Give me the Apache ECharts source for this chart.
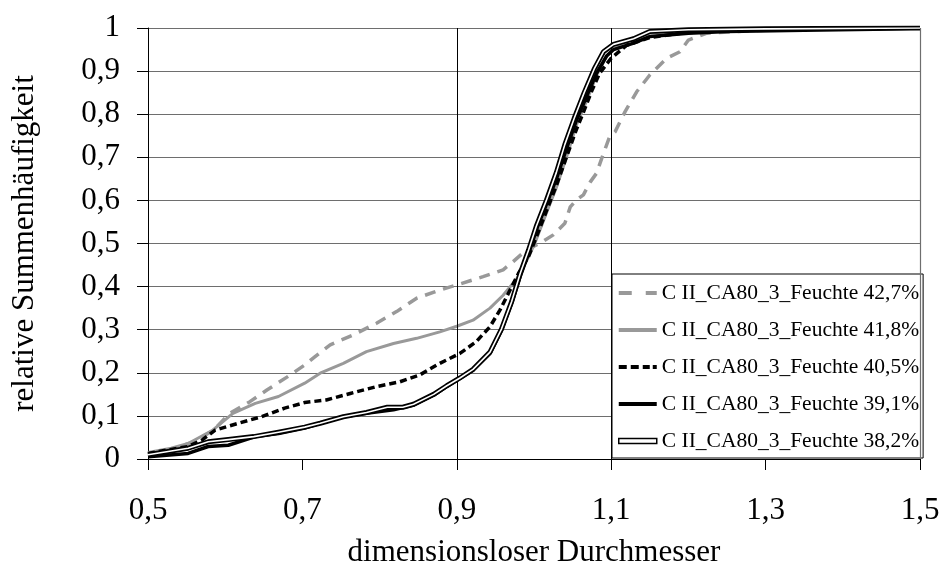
<!DOCTYPE html>
<html>
<head>
<meta charset="utf-8">
<script src="https://cdn.jsdelivr.net/npm/echarts@6/dist/echarts.min.js"></script>
<style>html,body{margin:0;padding:0;background:#fff;}#c{width:943px;height:581px;}</style>
</head>
<body>
<div id="c"></div>
<script>
const FONT = '"Liberation Serif", "Times New Roman", serif';
const xTicks = [0.5, 0.7, 0.9, 1.1, 1.3, 1.5];
const xVLines = [0.9, 1.1];
const names = [
  'C II_CA80_3_Feuchte 42,7%',
  'C II_CA80_3_Feuchte 41,8%',
  'C II_CA80_3_Feuchte 40,5%',
  'C II_CA80_3_Feuchte 39,1%',
  'C II_CA80_3_Feuchte 38,2%'
];

const x42_7 = [0.5, 0.53, 0.559, 0.585, 0.606, 0.632, 0.654, 0.68, 0.703, 0.716, 0.736, 0.766, 0.796, 0.822, 0.848, 0.878, 0.904, 0.934, 0.96, 0.973, 0.99, 1.011, 1.025, 1.04, 1.047, 1.055, 1.064, 1.073, 1.081, 1.09, 1.098, 1.105, 1.118, 1.133, 1.15, 1.172, 1.189, 1.2, 1.224, 1.3, 1.4, 1.5];
const y42_7 = [0.01, 0.022, 0.04, 0.067, 0.106, 0.133, 0.16, 0.19, 0.218, 0.237, 0.265, 0.288, 0.315, 0.342, 0.373, 0.392, 0.406, 0.423, 0.439, 0.458, 0.485, 0.504, 0.52, 0.547, 0.585, 0.601, 0.613, 0.643, 0.663, 0.709, 0.748, 0.759, 0.806, 0.852, 0.891, 0.93, 0.945, 0.972, 0.988, 0.995, 0.998, 1.0];

const x41_8 = [0.5, 0.53, 0.552, 0.583, 0.61, 0.639, 0.669, 0.703, 0.723, 0.753, 0.783, 0.818, 0.848, 0.878, 0.9, 0.921, 0.943, 0.96, 0.978, 0.991, 1.001, 1.016, 1.029, 1.042, 1.055, 1.068, 1.081, 1.094, 1.11, 1.13, 1.16, 1.2, 1.3, 1.4, 1.5];
const y41_8 = [0.015, 0.025, 0.036, 0.066, 0.106, 0.129, 0.145, 0.176, 0.199, 0.222, 0.249, 0.268, 0.28, 0.295, 0.308, 0.322, 0.35, 0.38, 0.419, 0.462, 0.5, 0.57, 0.63, 0.7, 0.775, 0.83, 0.89, 0.935, 0.96, 0.975, 0.985, 0.992, 0.997, 0.999, 1.0];

const x40_5 = [0.5, 0.552, 0.57, 0.587, 0.617, 0.647, 0.677, 0.703, 0.731, 0.762, 0.796, 0.826, 0.852, 0.878, 0.904, 0.925, 0.943, 0.956, 0.969, 0.98, 0.993, 1.003, 1.016, 1.029, 1.042, 1.055, 1.063, 1.075, 1.085, 1.1, 1.12, 1.15, 1.2, 1.3, 1.4, 1.5];
const y40_5 = [0.013, 0.029, 0.044, 0.067, 0.083, 0.098, 0.118, 0.131, 0.137, 0.152, 0.168, 0.179, 0.195, 0.222, 0.245, 0.272, 0.307, 0.346, 0.392, 0.431, 0.47, 0.515, 0.575, 0.635, 0.7, 0.765, 0.8, 0.855, 0.895, 0.93, 0.96, 0.978, 0.99, 0.997, 0.999, 1.0];

const x39_1 = [0.5, 0.552, 0.578, 0.604, 0.639, 0.669, 0.703, 0.723, 0.753, 0.783, 0.818, 0.844, 0.87, 0.887, 0.904, 0.921, 0.943, 0.958, 0.971, 0.982, 0.993, 1.003, 1.016, 1.029, 1.042, 1.055, 1.068, 1.081, 1.094, 1.103, 1.129, 1.15, 1.2, 1.25, 1.35, 1.44, 1.5];
const y39_1 = [0.005, 0.013, 0.029, 0.032, 0.052, 0.059, 0.072, 0.083, 0.098, 0.106, 0.114, 0.125, 0.148, 0.168, 0.187, 0.206, 0.245, 0.299, 0.361, 0.423, 0.477, 0.531, 0.59, 0.65, 0.72, 0.786, 0.841, 0.895, 0.935, 0.95, 0.965, 0.98, 0.988, 0.992, 0.995, 0.997, 1.0];

const x38_2 = [0.5, 0.552, 0.578, 0.604, 0.637, 0.669, 0.703, 0.723, 0.753, 0.783, 0.81, 0.83, 0.844, 0.87, 0.887, 0.904, 0.921, 0.943, 0.958, 0.971, 0.982, 0.993, 1.003, 1.016, 1.029, 1.04, 1.052, 1.065, 1.078, 1.09, 1.103, 1.129, 1.15, 1.2, 1.3, 1.5];
const y38_2 = [0.01, 0.025, 0.04, 0.045, 0.052, 0.062, 0.074, 0.083, 0.098, 0.108, 0.12, 0.12, 0.127, 0.15, 0.17, 0.188, 0.208, 0.248, 0.302, 0.365, 0.43, 0.485, 0.54, 0.6, 0.665, 0.73, 0.79, 0.85, 0.905, 0.945, 0.962, 0.975, 0.992, 0.996, 0.998, 1.0];

function pairs(xs, ys) { return xs.map((x, i) => [x, ys[i]]); }
function comma(v) {
  if (Math.abs(v) < 1e-9) return '0';
  if (Math.abs(v - 1) < 1e-9) return '1';
  return (Math.round(v * 10) / 10).toFixed(1).replace('.', ',');
}

const chart = echarts.init(document.getElementById('c'), null, {renderer: 'canvas'});
const line = (name, xs, ys, color, width, type, z) => ({
  name, type: 'line', data: pairs(xs, ys), symbol: 'none', showSymbol: false,
  lineStyle: {color, width, type, cap: 'butt', join: 'round'}, itemStyle: {color},
  z, silent: true, animation: false
});

const option = {
  animation: false,
  backgroundColor: '#fff',
  grid: {left: 148, right: 23, top: 28, bottom: 122, containLabel: false},
  xAxis: {
    type: 'value', min: 0.5, max: 1.5,
    name: 'dimensionsloser Durchmesser', nameLocation: 'middle', nameGap: 78,
    nameTextStyle: {fontFamily: FONT, fontSize: 31, color: '#000'},
    axisLine: {show: true, onZero: false, lineStyle: {color: '#000', width: 1}},
    axisTick: {show: true, inside: false, length: 11, customValues: xTicks, lineStyle: {color: '#000'}},
    axisLabel: {customValues: xTicks, margin: 36, fontFamily: FONT, fontSize: 31, color: '#000', formatter: v => String(v).replace('.', ',')},
    splitLine: {show: false}
  },
  yAxis: {
    type: 'value', min: 0, max: 1, interval: 0.1,
    name: 'relative Summenhäufigkeit', nameLocation: 'middle', nameGap: 108, nameRotate: 90,
    nameTextStyle: {fontFamily: FONT, fontSize: 31, color: '#000'},
    axisLine: {show: true, lineStyle: {color: '#000', width: 1}},
    axisTick: {show: true, inside: false, length: 11, lineStyle: {color: '#000'}},
    axisLabel: {margin: 28, fontFamily: FONT, fontSize: 31, color: '#000', formatter: comma},
    splitLine: {show: true, lineStyle: {color: '#6e6e6e', width: 1.2}}
  },
  legend: {
    orient: 'vertical', left: 612, top: 274,
    backgroundColor: '#fff', borderColor: '#000', borderWidth: 1,
    padding: [7, 4, 5, 6], itemGap: 13, itemWidth: 38, itemHeight: 14,
    selectedMode: false, symbolKeepAspect: true,
    textStyle: {fontFamily: FONT, fontSize: 21.5, color: '#000', lineHeight: 24},
    data: [
      {name: names[0], icon: 'path://M0,0H13V4H0Z M27,0H38V4H27Z', itemStyle: {color: '#999', borderWidth: 0}},
      {name: names[1], icon: 'path://M0,0H38V4H0Z', itemStyle: {color: '#999', borderWidth: 0}},
      {name: names[2], icon: 'path://M0,0H8V4H0Z M12,0H20V4H12Z M24,0H31V4H24Z M34,0H38V4H34Z', itemStyle: {color: '#000', borderWidth: 0}},
      {name: names[3], icon: 'path://M0,0H38V4H0Z', itemStyle: {color: '#000', borderWidth: 0}},
      {name: names[4], icon: 'path://M0,0H38V5H0Z', itemStyle: {color: '#fff', borderColor: '#000', borderWidth: 1.5}}
    ]
  },
  series: [
    {
      name: 'refLines', type: 'line', data: [], symbol: 'none', z: 1, silent: true,
      markLine: {
        silent: true, symbol: ['none', 'none'], label: {show: false}, animation: false,
        lineStyle: {color: '#000', type: 'solid', width: 1},
        data: xVLines.map(v => ({xAxis: v})).concat([{xAxis: 1.5, lineStyle: {color: '#6e6e6e', type: 'solid', width: 1.2}}])
      }
    },
    line(names[0], x42_7, y42_7, '#999999', 3.5, [11, 8], 2),
    line(names[1], x41_8, y41_8, '#999999', 3, 'solid', 3),
    line(names[2], x40_5, y40_5, '#000000', 3.5, [7, 4], 4),
    line(names[3], x39_1, y39_1, '#000000', 3.5, 'solid', 5),
    line(names[4], x38_2, y38_2, '#000000', 5, 'solid', 6),
    line('inner38', x38_2, y38_2, '#ffffff', 1.6, 'solid', 7)
  ]
};
chart.setOption(option);
</script>
</body>
</html>
